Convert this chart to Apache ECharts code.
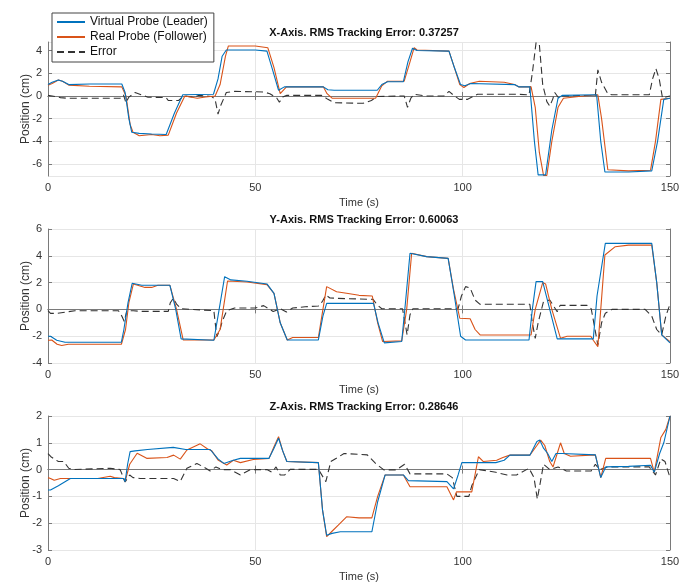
<!DOCTYPE html>
<html>
<head>
<meta charset="utf-8">
<script src="https://cdn.jsdelivr.net/npm/echarts@6/dist/echarts.min.js"></script>
<style>
  html, body { margin: 0; padding: 0; background: #fff; }
  #chart { width: 688px; height: 586px; }
</style>
</head>
<body>
<div id="chart"></div>
<script>
// [time (s), position (cm)]
const xLeader = [[0,1.0],[1,1.2],[2.5,1.4],[3.5,1.3],[5,1.0],[10,1.05],[17.8,1.05],[18.6,0.3],[19.5,-2.0],[20.2,-3.2],[22,-3.3],[25,-3.35],[28.5,-3.4],[30.5,-1.5],[32.5,0.1],[39.9,0.15],[41,1.5],[42,3.5],[43,4.05],[50,4.05],[52.8,3.95],[54,2.5],[55.6,0.5],[57,0.8],[66.4,0.8],[67.5,0.55],[69,0.5],[79.4,0.5],[80.5,1.0],[81.9,1.25],[85.7,1.25],[86.8,3],[87.9,4.2],[89,4.0],[96.7,3.95],[98,2.5],[99.5,1.0],[100.5,0.9],[102,1.1],[112.5,1.0],[113.5,0.8],[116.2,0.8],[117.3,-4],[118.2,-6.95],[120,-6.95],[121.5,-3],[123,-0.2],[124,0.05],[132.3,0.1],[133.3,-4],[134.3,-6.7],[140,-6.7],[145.6,-6.6],[147,-4],[148.5,-0.3],[150,-0.2]];
const xFollower = [[0,0.95],[1,1.1],[2.5,1.4],[3.5,1.3],[5,0.95],[10,0.85],[17.8,0.8],[18.8,0],[19.8,-2.5],[20.5,-3.2],[22,-3.5],[25,-3.4],[27,-3.5],[29,-3.45],[31,-1.5],[33,0],[36,-0.2],[38,-0.1],[40.3,0.0],[41.5,1],[42.8,3.5],[43.5,4.4],[50,4.4],[53,4.25],[54.5,2.5],[56,0.2],[57.5,0.8],[66.4,0.8],[67.3,0.2],[68.5,-0.2],[79,-0.2],[80.5,0.9],[81.9,1.3],[85.9,1.3],[87.3,3],[88.3,4.25],[89,4.05],[96.7,3.95],[98,2.5],[99.3,1.0],[100.3,0.75],[101.7,1.1],[104,1.3],[110,1.2],[112.5,1.0],[113.5,0.8],[116.5,0.8],[117.5,-1],[118.5,-5],[119.5,-7],[120.3,-7],[121.5,-4],[123,-1],[124.3,-0.2],[128,-0.05],[132.6,0.1],[133.5,-2],[135,-6.5],[140,-6.6],[145.3,-6.55],[146.5,-4],[147.8,-0.3],[150,-0.2]];
const xError = [[0,0.05],[1,0],[3,-0.15],[4.6,-0.2],[17.4,-0.2],[18.2,0.1],[18.8,-0.6],[19.5,-0.1],[21,0.3],[22.5,0.1],[24,-0.1],[28.5,-0.15],[29,-0.4],[31.5,-0.4],[32.7,0.0],[35,-0.1],[36.5,0.05],[39.5,-0.05],[40.3,-0.3],[41,-1.6],[41.7,-0.8],[43,0.3],[45,0.4],[52,0.35],[53.5,0.2],[55.2,-0.2],[55.8,-0.55],[56.6,-0.1],[57.6,0.05],[66,0.05],[67.5,-0.3],[69,-0.6],[76,-0.65],[78,-0.4],[79.4,-0.05],[85.9,0.0],[86.7,-1.0],[87.5,-0.2],[88.3,0.15],[91,0.0],[95.5,0.0],[96.7,0.4],[97.7,0.1],[99.2,-0.3],[101.2,-0.3],[103.6,0.15],[113.2,0.15],[116,0.1],[116.8,2],[117.7,4.7],[118.5,4.5],[119.3,1],[120.3,-0.5],[121,-0.9],[121.7,-0.3],[122.2,0.3],[123.2,-0.2],[124,0],[132,0.05],[132.6,2.3],[133.5,1.2],[135,0.2],[136,0.1],[145,0.1],[145.8,1.5],[146.6,2.4],[147.4,1.5],[148.2,-0.2],[149,-0.1],[150,0]];

const yLeader = [[0,-2.0],[0.6,-2.0],[2.1,-2.3],[4.1,-2.45],[17.7,-2.45],[18.3,-1.5],[19.3,0.5],[20.3,1.95],[22.6,1.8],[29.4,1.8],[30.8,0],[32.1,-2.2],[40,-2.3],[41,-0.5],[42.6,2.44],[44.1,2.2],[48,2.1],[52.8,1.9],[54.5,1.2],[56,-1],[57.7,-2.28],[65.2,-2.28],[66.3,-0.5],[67.2,0.45],[78.5,0.45],[79.6,-1],[81.1,-2.5],[85.3,-2.4],[86.2,0.5],[87.3,4.19],[91.3,3.94],[96.5,3.81],[98,1],[99.5,-2],[100.7,-2.28],[116,-2.28],[116.8,0],[117.7,2.07],[119.3,2.07],[121,0],[122.8,-2.2],[131.5,-2.2],[132.4,1],[134.4,4.93],[145.6,4.93],[146.8,2],[148,-1.9],[150,-2.5]];
const yFollower = [[0,-2.3],[0.9,-2.28],[2.2,-2.6],[3.3,-2.7],[4.9,-2.6],[17.7,-2.6],[18.7,-1.5],[19.5,0.5],[20.6,1.9],[23.4,1.64],[25,1.64],[26.5,1.8],[29.4,1.8],[31,0],[32.6,-2.28],[40,-2.28],[41.5,-1.5],[42.5,0.5],[43.3,2.12],[48,2.05],[52.8,1.85],[54.5,1.2],[56,-1],[57.7,-2.28],[59,-2.1],[65.2,-2.1],[66.3,0],[67.2,1.7],[69.6,1.32],[72,1.2],[75,1.05],[78.2,1.0],[79.5,-1],[80.7,-2.4],[85.3,-2.35],[86.5,0],[87.7,4.19],[91.3,3.94],[96.5,3.81],[97.8,1.5],[99.3,-0.66],[101.8,-0.7],[103,-1.5],[104.2,-1.91],[116.5,-1.91],[117.5,0],[119.3,2.0],[120,1.9],[121.5,0],[123.6,-2.16],[125.2,-2.0],[130.9,-2.0],[131.5,-2.3],[132.6,-2.78],[133.3,0],[134.3,4.06],[136.8,4.68],[140,4.8],[145.6,4.8],[146.8,2],[148,-1.9],[150,-2.4]];
const yError = [[0,-0.1],[0.6,-0.3],[2,-0.3],[6.5,-0.1],[17,-0.1],[17.8,-0.5],[18.4,-0.9],[19,-0.1],[20.6,-0.1],[22.6,-0.15],[29,-0.15],[29.5,0.5],[30.2,0.83],[31,0.4],[32.1,0.05],[40,-0.1],[40.7,-2.04],[41.5,-1.5],[42,-0.9],[43.1,-0.1],[45,0.1],[50,0.1],[52,0.28],[54.3,-0.15],[56,0.05],[57.5,-0.2],[59,0.1],[62,0.2],[65.2,0.25],[66.2,0.6],[67,1.07],[68,0.85],[72,0.8],[78.4,0.75],[79.5,0.3],[80.5,0.05],[85.5,0.05],[86.1,-1.0],[86.6,-1.9],[87.3,-0.4],[88,0.05],[98.9,0.05],[99.7,1.0],[100.7,1.7],[101.8,1.6],[103,0.7],[104.2,0.38],[116.2,0.38],[116.8,-1],[117.5,-2.16],[118.2,-1],[119.5,0.6],[121,0.7],[122.8,-0.17],[123.5,0.3],[130,0.3],[131,0.05],[132.6,-2.66],[133.5,-1],[134.4,-0.29],[136,0.0],[144,0.0],[145.6,-0.5],[146.8,-1.5],[148,-1.9],[149,-0.5],[150,0.4]];

const zLeader = [[0,-0.76],[0.6,-0.76],[2.5,-0.6],[5.4,-0.33],[18.2,-0.33],[18.6,-0.45],[19.2,0.2],[19.8,0.67],[21,0.7],[24,0.75],[30.2,0.83],[33.2,0.75],[39.1,0.75],[41,0.4],[42.4,0.23],[44.7,0.35],[46.4,0.42],[53.3,0.42],[54.5,0.8],[55.6,1.17],[56.6,0.7],[57.6,0.3],[65.2,0.26],[66.2,-1.5],[67.2,-2.45],[68.5,-2.38],[70.5,-2.32],[78.1,-2.32],[79.5,-1.2],[81.3,-0.2],[85.7,-0.2],[86.9,-0.41],[96.2,-0.45],[97.8,-0.72],[98.9,-0.2],[99.8,0.26],[108,0.26],[110,0.35],[111.4,0.54],[116.2,0.54],[117.9,1.05],[118.6,1.1],[119.5,0.8],[120.5,0.6],[121.5,0.3],[122.5,0.6],[124,0.6],[132,0.55],[133.3,-0.3],[134.5,0.1],[140,0.12],[145.3,0.16],[146.2,-0.1],[147.5,0.6],[148.5,1.0],[150,2.0]];
const zFollower = [[0,-0.3],[0.6,-0.33],[1.5,-0.4],[3,-0.33],[12,-0.33],[15,-0.25],[16,-0.3],[18.2,-0.33],[18.6,-0.44],[19.7,0.2],[21.5,0.61],[23.8,0.42],[28.7,0.45],[30.3,0.54],[31.9,0.39],[33.5,0.73],[36.7,0.96],[38.5,0.77],[39.5,0.7],[41,0.36],[43.1,0.17],[44.7,0.35],[46.4,0.26],[49.5,0.38],[53.3,0.42],[54.5,0.85],[55.6,1.23],[56.6,0.7],[57.6,0.3],[65.2,0.26],[66.2,-1.5],[67.2,-2.5],[68.5,-2.3],[70,-2.07],[72,-1.76],[75,-1.8],[78.1,-1.8],[79.5,-1.0],[81.3,-0.2],[85.7,-0.2],[87.3,-0.64],[96.2,-0.64],[97.8,-1.13],[98.5,-0.83],[102.2,-0.83],[103.8,0.48],[105,0.3],[108.2,0.35],[109.7,0.45],[111.4,0.54],[116.2,0.54],[117.9,0.9],[118.8,1.1],[119.8,0.9],[121,0.3],[121.8,0.1],[122.8,0.6],[123.6,1.0],[124.5,0.6],[126,0.5],[132,0.55],[133.3,-0.3],[134.5,0.42],[145.3,0.42],[146.2,-0.1],[147.8,1.2],[149,1.5],[150,2.0]];
const zError = [[0,0.6],[0.7,0.48],[2.5,0.3],[3.8,0.3],[5,0.05],[6.2,0.0],[15,0.05],[17.4,0.0],[18.6,-0.46],[19.7,-0.2],[20.5,-0.3],[22.2,-0.33],[30.3,-0.33],[31.9,-0.44],[33.5,0.05],[35.9,0.23],[37.5,0.1],[39.1,-0.05],[40.5,0.1],[42,0.0],[44,0.0],[46.4,-0.2],[48.8,0.0],[52.8,0.0],[54,-0.1],[55,0.1],[56,-0.2],[57.1,-0.2],[58.4,0.01],[65.2,0.01],[67,-0.45],[68.2,0.3],[71.4,0.6],[77,0.55],[79,0.23],[81,-0.01],[84,-0.01],[86,0.2],[87.3,-0.16],[96.2,-0.16],[97.5,-0.3],[98.6,-1.0],[101.5,-1.0],[102.2,-0.6],[104,0.0],[108,-0.1],[110.7,-0.2],[113,-0.2],[116,0.05],[117.2,-0.3],[118,-1.1],[118.7,-0.5],[119.5,0.2],[121,0],[123,0.1],[125,-0.05],[131,-0.05],[132,0.2],[133,0.0],[135,0.1],[145,0.1],[146.5,-0.2],[147.8,0.4],[148.8,0.3],[149.8,-0.2],[150,-0.2]];

const titles = ["X-Axis. RMS Tracking Error: 0.37257", "Y-Axis. RMS Tracking Error: 0.60063", "Z-Axis. RMS Tracking Error: 0.28646"];
const yRanges = [[-7.05, 4.75], [-4, 6], [-3, 2]];
const yIntervals = [null, 2, 1];
const xTicks = [0, 150, 50]; // min, max, interval
const names = ["Virtual Probe (Leader)", "Real Probe (Follower)", "Error"];

const panels = [[xLeader, xFollower, xError], [yLeader, yFollower, yError], [zLeader, zFollower, zError]];
const gridTops = [42, 229, 416];
const FONT = "'Liberation Sans', Arial, sans-serif";
const frame = "#7a7a7a";
const txt = "#333";

const chart = echarts.init(document.getElementById("chart"), null, { renderer: "canvas" });

const grid = [], xAxis = [], yAxis = [], series = [], title = [];
gridTops.forEach((top, i) => {
  grid.push({ left: 48, right: 18, top: top, height: 134, show: false });
  title.push({
    text: titles[i], left: 359, top: top - 20, textAlign: "center",
    textStyle: { fontFamily: FONT, fontSize: 11, fontWeight: "bold", color: "#111" }
  });
  const xCommon = {
    type: "value", gridIndex: i, min: xTicks[0], max: xTicks[1], interval: xTicks[2],
    axisLine: { show: true, lineStyle: { color: frame, width: 1 } },
    axisTick: { show: true, inside: true, length: 4, lineStyle: { color: frame } }
  };
  xAxis.push(Object.assign({}, xCommon, {
    position: "bottom",
    name: "Time (s)", nameLocation: "middle", nameGap: 21,
    nameTextStyle: { fontFamily: FONT, fontSize: 11, color: txt },
    axisLabel: { fontFamily: FONT, fontSize: 11, color: txt, margin: 6 },
    splitLine: { show: true, lineStyle: { color: "#e6e6e6", width: 1 } }
  }));
  xAxis.push(Object.assign({}, xCommon, {
    position: "top", axisLabel: { show: false }, splitLine: { show: false }
  }));
  const yCommon = {
    type: "value", gridIndex: i, min: yRanges[i][0], max: yRanges[i][1],
    axisLine: { show: true, onZero: false, lineStyle: { color: frame, width: 1 } },
    axisTick: { show: true, inside: true, length: 4, lineStyle: { color: frame } }
  };
  if (yIntervals[i]) yCommon.interval = yIntervals[i];
  else yCommon.splitNumber = 5;
  yAxis.push(Object.assign({}, yCommon, {
    position: "left",
    name: "Position (cm)", nameLocation: "middle", nameGap: 16, nameMoveOverlap: false,
    nameTextStyle: { fontFamily: FONT, fontSize: 12, color: txt },
    axisLabel: { fontFamily: FONT, fontSize: 11, color: txt, margin: 6,
      showMinLabel: !!yIntervals[i], showMaxLabel: !!yIntervals[i] },
    splitLine: { show: true, lineStyle: { color: "#e6e6e6", width: 1 } }
  }));
  yAxis.push(Object.assign({}, yCommon, {
    position: "right", axisLabel: { show: false }, splitLine: { show: false }
  }));

  const colors = ["#0072BD", "#D95319", "#333333"];
  panels[i].forEach((data, k) => {
    series.push({
      name: names[k], type: "line", xAxisIndex: 2 * i, yAxisIndex: 2 * i,
      data: data, showSymbol: false, symbol: "none", smooth: false,
      clip: true, animation: false, z: k === 2 ? 1 : (k === 0 ? 3 : 2),
      lineStyle: { color: colors[k], width: 1.1, type: k === 2 ? [7, 4] : "solid" },
      itemStyle: { color: colors[k] }
    });
  });
});

chart.setOption({
  backgroundColor: "#fff",
  animation: false,
  title: title,
  legend: {
    data: names, orient: "vertical", left: 52, top: 13,
    backgroundColor: "#fff", borderColor: "#444", borderWidth: 1,
    padding: [3, 6, 4, 4], itemGap: 3, itemWidth: 28, itemHeight: 11,
    itemStyle: { opacity: 0 },
    textStyle: { fontFamily: FONT, fontSize: 12, color: "#111" },
    selectedMode: false, z: 10
  },
  grid: grid,
  xAxis: xAxis,
  yAxis: yAxis,
  series: series
});
</script>
</body>
</html>
